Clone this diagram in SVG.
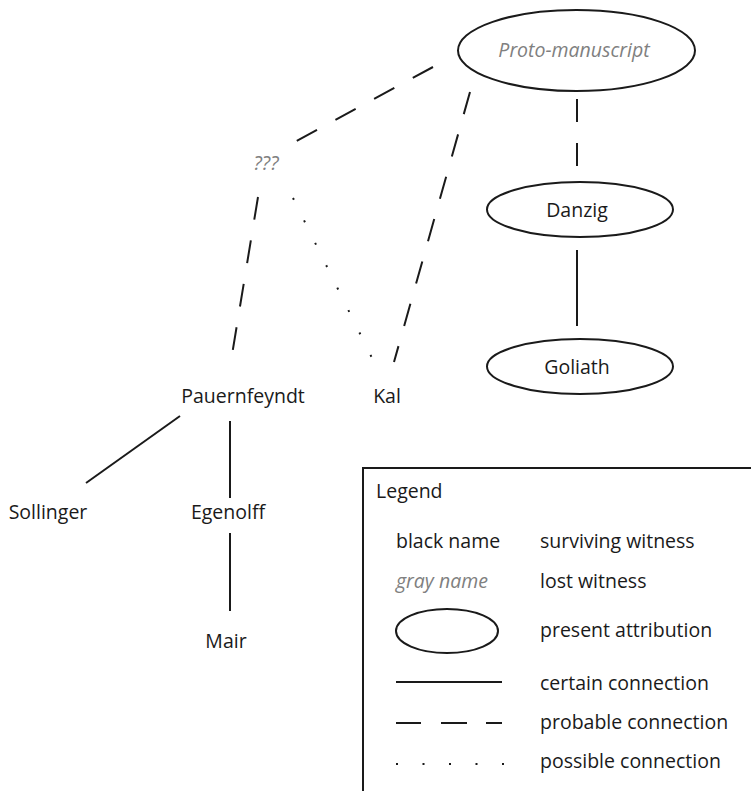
<svg xmlns="http://www.w3.org/2000/svg" width="751" height="791" viewBox="0 0 751 791">
<style>
text{font-family:"Open Sans","Liberation Sans",Arial,sans-serif;font-size:19.5px;fill:#1a1a1a}
.lost{font-style:italic;fill:#808080}
.m{text-anchor:middle}
.ell{fill:none;stroke:#1a1a1a;stroke-width:2}
.solid{stroke:#1a1a1a;stroke-width:2;fill:none}
.dash{stroke:#1a1a1a;stroke-width:2;fill:none;stroke-dasharray:23 21}
.dot{stroke:#1a1a1a;stroke-width:2;fill:none;stroke-dasharray:2 23}
</style>
<rect width="751" height="791" fill="#fff"/>
<g id="connectors">
<line class="dash" x1="577" y1="99" x2="577" y2="166"/>
<line class="solid" x1="577" y1="250" x2="577" y2="326"/>
<line class="dash" x1="433" y1="67" x2="293" y2="143"/>
<line class="dash" x1="470" y1="92" x2="394" y2="362"/>
<line class="dash" x1="258" y1="197" x2="232" y2="355"/>
<line class="dot" x1="293" y1="198" x2="374" y2="362"/>
<line class="solid" x1="180" y1="416" x2="86" y2="483"/>
<line class="solid" x1="230" y1="421" x2="230" y2="498"/>
<line class="solid" x1="230" y1="533" x2="230" y2="611"/>
</g>
<g id="proto"><ellipse class="ell" cx="576.5" cy="50.5" rx="118.5" ry="40.5"/><text class="lost m" x="574" y="57">Proto-manuscript</text></g>
<g id="danzig"><ellipse class="ell" cx="580" cy="209.5" rx="93" ry="27.5"/><text class="m" x="577" y="217">Danzig</text></g>
<g id="goliath"><ellipse class="ell" cx="580" cy="366.5" rx="93" ry="27.5"/><text class="m" x="577" y="374">Goliath</text></g>
<g id="unknown"><text class="lost m" x="266" y="170">???</text></g>
<g id="kal"><text class="m" x="387" y="403">Kal</text></g>
<g id="pauernfeyndt"><text class="m" x="243" y="403">Pauernfeyndt</text></g>
<g id="sollinger"><text class="m" x="48" y="519">Sollinger</text></g>
<g id="egenolff"><text class="m" x="228" y="519">Egenolff</text></g>
<g id="mair"><text class="m" x="226" y="648">Mair</text></g>
<g id="legend">
<rect x="363" y="468" width="390" height="330" fill="none" stroke="#1a1a1a" stroke-width="2"/>
<text x="376" y="498">Legend</text>
<text x="396" y="548">black name</text>
<text x="540" y="548">surviving witness</text>
<text class="lost" x="396" y="588">gray name</text>
<text x="540" y="588">lost witness</text>
<ellipse class="ell" cx="447" cy="631" rx="51" ry="22"/>
<text x="540" y="637">present attribution</text>
<line class="solid" x1="396" y1="682" x2="502" y2="682"/>
<text x="540" y="690">certain connection</text>
<line class="solid" x1="396" y1="723" x2="421" y2="723"/>
<line class="solid" x1="441" y1="723" x2="467" y2="723"/>
<line class="solid" x1="486" y1="723" x2="502" y2="723"/>
<text x="540" y="729">probable connection</text>
<line class="dot" x1="396" y1="764" x2="504" y2="764" style="stroke-dasharray:2 24.5"/>
<text x="540" y="768">possible connection</text>
</g>
</svg>
